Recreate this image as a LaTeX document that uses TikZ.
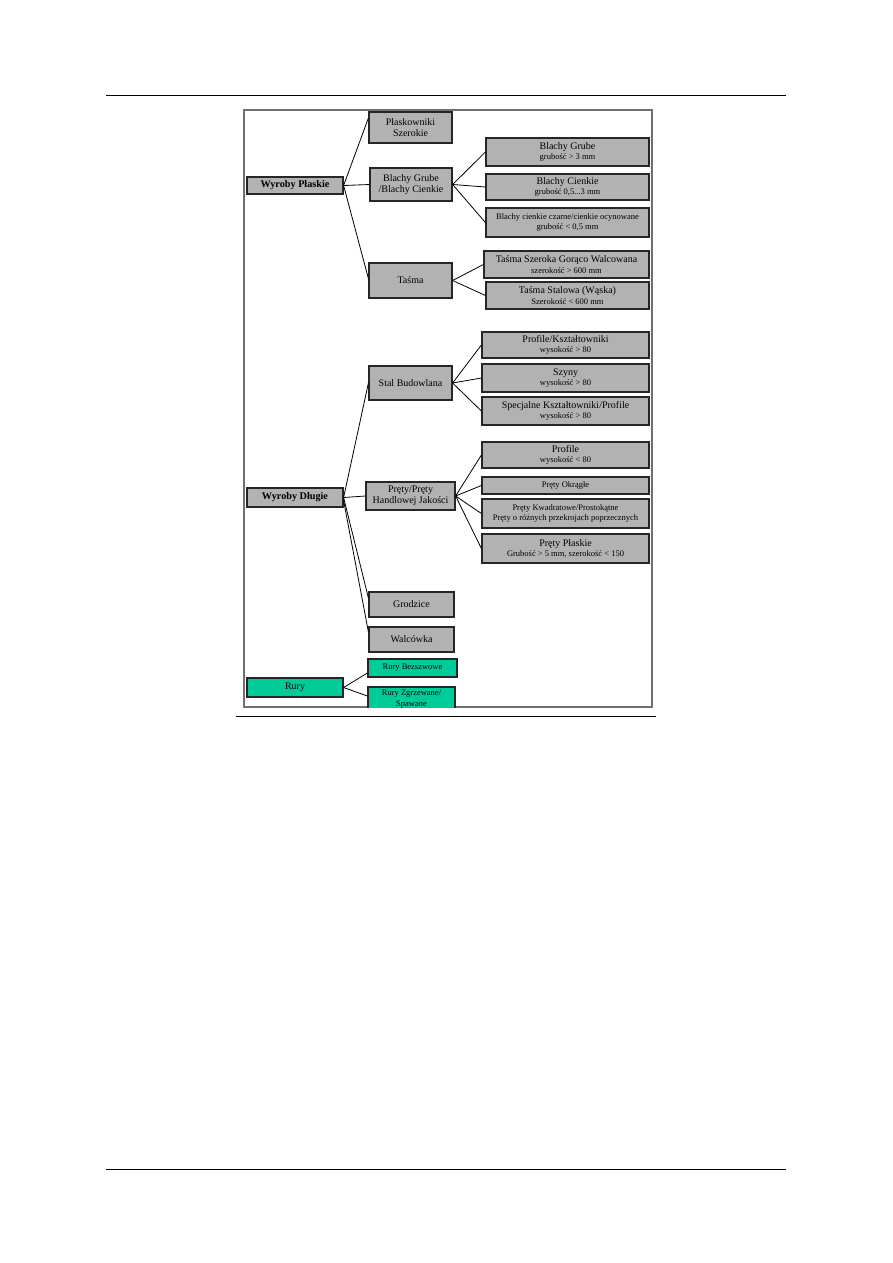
\documentclass[tikz,border=0pt]{standalone}
\usepackage{fontspec}
\setmainfont{Liberation Serif}
\definecolor{gc}{RGB}{178,178,178}
\definecolor{tc}{RGB}{0,204,153}
\definecolor{fc}{RGB}{112,112,112}
\newcommand{\subtxt}[1]{{\fontsize{8.5}{9}\selectfont #1}}
\tikzset{box/.style={draw=black!85,fill=gc,line width=1.2pt,inner sep=1pt,align=center,
   font=\fontsize{10}{10.5}\selectfont},
 head/.style={box,font=\bfseries\fontsize{10.2}{11}\selectfont},
 tbox/.style={box,fill=tc},
 wire/.style={line width=.8pt},
 rule/.style={line width=1pt}}

\begin{document}
\begin{tikzpicture}[x=1pt,y=-1pt]
\useasboundingbox (0,0) rectangle (893,1263);
\draw[rule] (106,95)--(786,95);
\draw[rule] (106,1169)--(786,1169);
\draw[fc,line width=1.3pt] (244,110) rectangle (652,707);
\draw[rule] (236,716)--(656,716);
% wyroby plaskie
\node[head,minimum width=96,minimum height=17] (wp) at (295,185.5) {Wyroby Płaskie};
\node[box,minimum width=83,minimum height=31] (psz) at (410.5,127.5) {Płaskowniki\\Szerokie};
\node[box,minimum width=82,minimum height=33] (bgc) at (411,184.5) {Blachy Grube\\/Blachy Cienkie};
\node[box,minimum width=83,minimum height=35] (tas) at (410.5,280.5) {Taśma};
\node[box,minimum width=163,minimum height=28] (bg) at (567.5,152) {Blachy Grube\\\subtxt{grubość > 3 mm}};
\node[box,minimum width=163,minimum height=26] (bc) at (567.5,187) {Blachy Cienkie\\\subtxt{grubość 0,5...3 mm}};
\node[box,minimum width=163,minimum height=29] (bcc) at (567.5,222.5) {\subtxt{Blachy cienkie czarne/cienkie ocynowane}\\\subtxt{grubość < 0,5 mm}};
\node[box,minimum width=165,minimum height=27] (tsz) at (566.5,264.5) {Taśma Szeroka Gorąco Walcowana\\\subtxt{szerokość > 600 mm}};
\node[box,minimum width=163,minimum height=27] (tst) at (567.5,295.5) {Taśma Stalowa (Wąska)\\\subtxt{Szerokość < 600 mm}};
% wyroby dlugie
\node[head,minimum width=96,minimum height=19] (wd) at (295,497.5) {Wyroby Długie};
\node[box,minimum width=83,minimum height=34] (sb) at (410.5,383) {Stal Budowlana};
\node[box,minimum width=167,minimum height=26] (pk) at (565.5,345) {Profile/Kształtowniki\\\subtxt{wysokość > 80}};
\node[box,minimum width=167,minimum height=28] (sz) at (565.5,378) {Szyny\\\subtxt{wysokość > 80}};
\node[box,minimum width=167,minimum height=28] (sk) at (565.5,411) {Specjalne Kształtowniki/Profile\\\subtxt{wysokość > 80}};
\node[box,minimum width=89,minimum height=28] (pp) at (410.5,496) {Pręty/Pręty\\Handlowej Jakości};
\node[box,minimum width=167,minimum height=26] (pr) at (565.5,455) {Profile\\\subtxt{wysokość < 80}};
\node[box,minimum width=167,minimum height=17] (po) at (565.5,485.5) {\subtxt{Pręty Okrągłe}};
\node[box,minimum width=167,minimum height=29] (pkw) at (565.5,513.5) {\subtxt{Pręty Kwadratowe/Prostokątne}\\\subtxt{Pręty o różnych przekrojach poprzecznych}};
\node[box,minimum width=167,minimum height=29] (ppl) at (565.5,548.5) {Pręty Płaskie\\\subtxt{Grubość > 5 mm, szerokość < 150}};
\node[box,minimum width=85,minimum height=25] (gr) at (411.5,604.5) {Grodzice};
\node[box,minimum width=85,minimum height=25] (wa) at (411.5,639.5) {Walcówka};
% rury
\node[tbox,minimum width=96,minimum height=19] (ru) at (295,687.5) {Rury};
\node[tbox,minimum width=89,minimum height=18] (rb) at (412.5,668) {\subtxt{Rury Bezszwowe}};
\begin{scope}
\clip (244,110) rectangle (652,707);
\node[tbox,minimum width=87,minimum height=24] (rz) at (411.5,699) {\subtxt{Rury Zgrzewane/}\\\subtxt{Spawane}};
\end{scope}
% polaczenia
\draw[wire] (wp.east) -- ([yshift=9.5pt]psz.west);
\draw[wire] (wp.east) -- (bgc.west);
\draw[wire] (wp.east) -- ([yshift=2pt]tas.west);
\foreach \c in {bg,bc,bcc} \draw[wire] (bgc.east) -- (\c.west);
\foreach \c in {tsz,tst} \draw[wire] (tas.east) -- (\c.west);
\foreach \c in {pk,sz,sk} \draw[wire] (sb.east) -- (\c.west);
\draw[wire] (wd.east) -- (sb.west);
\draw[wire] (wd.east) -- (pp.west);
\draw[wire] (wd.east) -- ([yshift=6.5pt]gr.west);
\draw[wire] ([yshift=-3pt]wd.east) -- ([yshift=7.5pt]wa.west);
\foreach \c in {pr,po,pkw,ppl} \draw[wire] (pp.east) -- (\c.west);
\draw[wire] (ru.east) -- ([yshift=-5pt]rb.west);
\draw[wire] (ru.east) -- ([yshift=3pt]rz.west);
\end{tikzpicture}
\end{document}
